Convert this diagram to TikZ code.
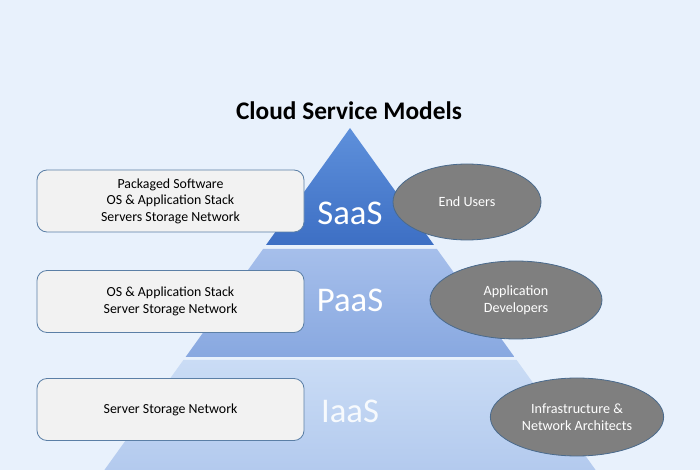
\documentclass[tikz,border=0pt]{standalone}
\usepackage{fontspec}
\setmainfont{Carlito}
\usetikzlibrary{shapes.geometric}
\definecolor{bg}{HTML}{E8F1FC}
\definecolor{saastop}{HTML}{5E90DB}
\definecolor{saasbot}{HTML}{3D6FC4}
\definecolor{paastop}{HTML}{A6BFEB}
\definecolor{paasbot}{HTML}{88A8E0}
\definecolor{iaastop}{HTML}{CADCF5}
\definecolor{iaasbot}{HTML}{B3CAEE}
\definecolor{boxfill}{HTML}{F2F2F2}
\definecolor{boxline}{HTML}{5B7FA6}
\definecolor{ellfill}{HTML}{7F7F7F}
\definecolor{ellline}{HTML}{4A6A8C}
\tikzset{
  infobox/.style={draw=boxline, line width=0.6pt, fill=boxfill, rounded corners=7.5pt,
    minimum width=200.25pt, minimum height=46.5pt, align=center, font=\fontsize{10.4}{12.4}\selectfont, inner sep=0pt},
  userell/.style={ellipse, draw=ellline, line width=0.6pt, fill=ellfill, text=white, align=center,
    font=\fontsize{10.6}{12.6}\selectfont, inner sep=0pt},
  layerlbl/.style={font=\fontsize{26}{28}\selectfont, text=white},
}
\begin{document}
\begin{tikzpicture}[x=0.75pt,y=-0.75pt]
\fill[bg] (0,0) rectangle (700,470);
\useasboundingbox (0,0) rectangle (700,470);
% pyramid layers
\shade[top color=iaastop, bottom color=iaasbot] (183.4,360) -- (516.6,360) -- (595.6,470) -- (104.4,470) -- cycle;
\shade[top color=paastop, bottom color=paasbot] (263.1,249) -- (436.9,249) -- (514.4,357) -- (185.6,357) -- cycle;
\shade[top color=saastop, bottom color=saasbot] (350,128) -- (434,245) -- (266,245) -- cycle;
% title
\node (title) at (349,111) {\fontsize{19}{22}\selectfont\bfseries Cloud Service Models};
% layer labels
\node[layerlbl] (saas) at (350,213) {SaaS};
\node[layerlbl] (paas) at (350,300) {PaaS};
\node[layerlbl, text=white!85!iaastop] (iaas) at (350,411) {IaaS};
% left boxes
\node[infobox] (box1) at (170.5,201) {Packaged Software\\OS \& Application Stack\\Servers Storage Network};
\node[infobox] (box2) at (170.5,301.5) {OS \& Application Stack\\Server Storage Network};
\node[infobox] (box3) at (170.5,409.5) {Server Storage Network};
% right ellipses
\node[userell, minimum width=111pt, minimum height=57pt] (ell1) at (467,202) {End Users};
\node[userell, minimum width=129pt, minimum height=58.5pt] (ell2) at (516,300) {Application\\Developers};
\node[userell, minimum width=130pt, minimum height=58.5pt] (ell3) at (577,417) {Infrastructure \&\\Network Architects};
\end{tikzpicture}
\end{document}
